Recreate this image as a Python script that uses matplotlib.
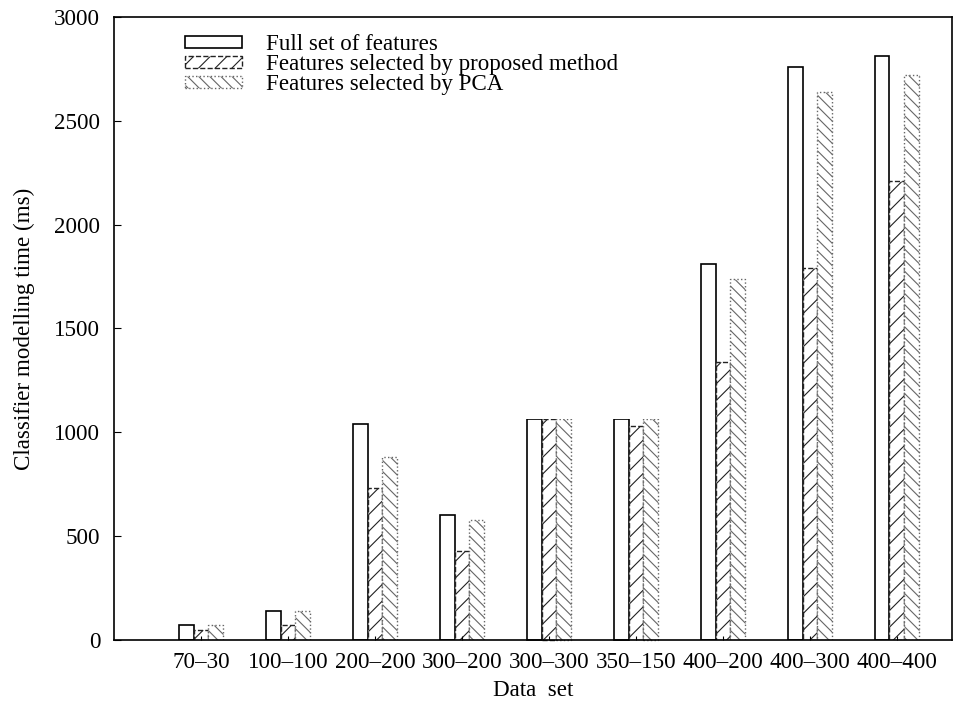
import matplotlib.pyplot as plt
import matplotlib.patches as mpatches
import numpy as np

plt.rcParams['font.family'] = ['Liberation Serif', 'DejaVu Serif']
plt.rcParams['hatch.linewidth'] = 0.8

# Dados
datasets = ['70\u201330', '100\u2013100', '200\u2013200', '300\u2013200', '300\u2013300',
            '350\u2013150', '400\u2013200', '400\u2013300', '400\u2013400']
full_set = [70, 140, 1040, 600, 1065, 1065, 1810, 2760, 2810]
proposed = [50, 70, 730, 430, 1065, 1030, 1340, 1790, 2210]
pca = [70, 140, 880, 580, 1065, 1065, 1740, 2640, 2720]
# barras cortadas na figura original (sem borda superior)
cut_level = 1065
cut_groups = [4, 5]

labels = ['Full set of features', 'Features selected by proposed method',
          'Features selected by PCA']

fs = 16.6
fig = plt.figure(figsize=(9.72, 7.05), dpi=100)
ax = fig.add_axes([0.1173, 0.0922, 0.8617, 0.8837])

x = np.arange(len(datasets))
w = 0.168

b1 = ax.bar(x - w, full_set, w, facecolor='white', edgecolor='black', linewidth=1.2,
            label=labels[0])
b2 = ax.bar(x, proposed, w, facecolor='white', edgecolor='#222222', linewidth=1.0,
            linestyle='--', hatch='//', label=labels[1])
b3 = ax.bar(x + w, pca, w, facecolor='white', edgecolor='#666666', linewidth=1.0,
            linestyle=':', hatch='\\\\\\', label=labels[2])

# esconde a borda superior das barras cortadas
clip = mpatches.Rectangle((-2, -100), 20, cut_level + 100 - 3, transform=ax.transData)
for bars, vals in ((b1, full_set), (b2, proposed), (b3, pca)):
    for i in cut_groups:
        if vals[i] >= cut_level:
            bars[i].set_clip_path(clip)

ax.set_xlim(-1.0, 8.63)
ax.set_ylim(0, 3000)
ax.set_xticks(x)
ax.set_xticklabels(datasets, fontsize=16.2)
ax.set_yticks(np.arange(0, 3001, 500))
ax.tick_params(direction='in', labelsize=fs, length=5, top=False, right=False)
ax.tick_params(axis='y', pad=10)
ax.tick_params(axis='x', length=3, pad=9)
for s in ax.spines.values():
    s.set_linewidth(1.2)

ax.set_xlabel('Data  set', fontsize=fs, labelpad=5)
ax.set_ylabel('Classifier modelling time (ms)', fontsize=fs, labelpad=14)

ax.legend(loc='upper left', bbox_to_anchor=(0.066, 0.998), frameon=False, fontsize=fs,
          handlelength=2.45, handleheight=0.45, handletextpad=1.05, labelspacing=-0.05,
          borderaxespad=0.3)

fig.savefig('out.png', dpi=100)
plt.close(fig)
